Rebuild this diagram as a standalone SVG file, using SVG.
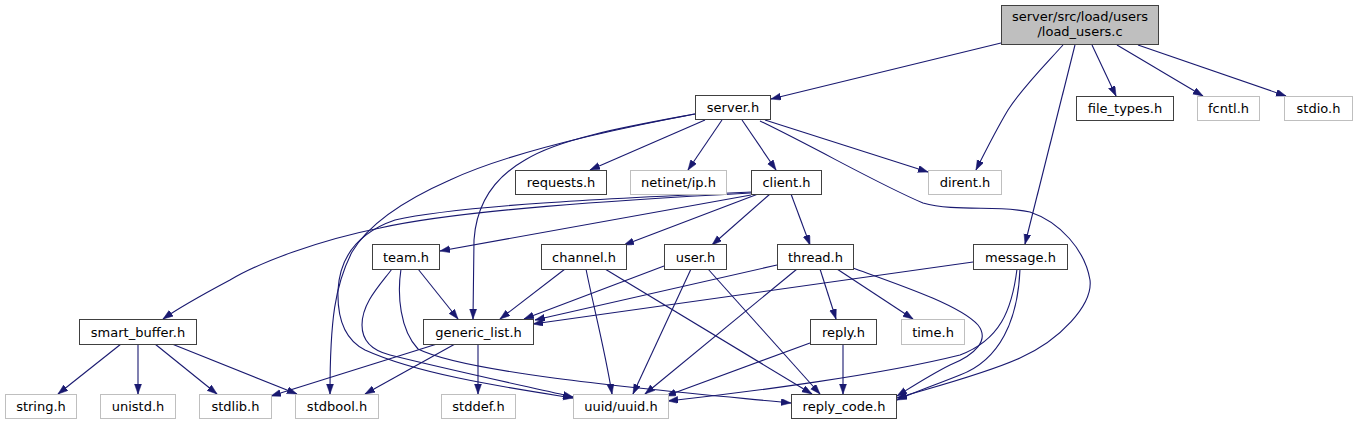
<svg xmlns="http://www.w3.org/2000/svg" width="1357" height="425" viewBox="0 0 1357 425">
<defs>
<style>
.n rect{fill:#ffffff;stroke:#404040;stroke-width:1}
.x rect{fill:#ffffff;stroke:#bfbfbf;stroke-width:1}
.r rect{fill:#bfbfbf;stroke:#404040;stroke-width:1}
text{font-family:"DejaVu Sans","Liberation Sans",sans-serif;font-size:13px;fill:#000;text-anchor:middle}
.e path{fill:none;stroke:#191970;stroke-width:1.1;marker-end:url(#a)}
</style>
<marker id="a" markerUnits="userSpaceOnUse" markerWidth="11" markerHeight="8" refX="10" refY="3.5" orient="auto">
<path d="M0,0 L10,3.5 L0,7 z" fill="#191970" stroke="#191970" stroke-width="0.5"/>
</marker>
</defs>
<rect width="1357" height="425" fill="#ffffff"/>
<g class="e" id="edges">
<path d="M1001,43 L771,99"/>
<path d="M1063,45 C1045,65 1022,88 1008,110 C996,130 986,150 976,170"/>
<path d="M1075,45 L1025,244"/>
<path d="M1092,45 L1116,96"/>
<path d="M1117,45 L1203,96"/>
<path d="M1138,45 L1286,96"/>
<path d="M705,120 L590,170"/>
<path d="M722,120 L688,170"/>
<path d="M742,120 L776,170"/>
<path d="M765,120 L928,172"/>
<path d="M760,121 C820,150 880,185 923,203 C955,212 1000,205 1030,212 C1060,222 1085,250 1090,280 C1093,305 1060,340 1020,358 C985,374 930,388 897,398"/>
<path d="M695,114 C630,126 560,138 525,160 C490,180 476,210 474,240 L473,319"/>
<path d="M695,114 C610,130 510,152 450,180 C400,202 368,225 352,252 C335,285 330,320 330,394"/>
<path d="M751,195 L440,251"/>
<path d="M758,194 L624,245"/>
<path d="M770,194 L712,245"/>
<path d="M791,194 L810,245"/>
<path d="M751,193 C620,200 460,210 380,228 C320,240 260,262 230,280 C200,296 180,307 163,319"/>
<path d="M751,192 C620,198 460,205 395,220 C360,232 340,255 338,290 C337,320 345,340 365,350 C420,375 510,388 573,398"/>
<path d="M418,269 L458,319"/>
<path d="M392,269 C380,285 362,303 362,325 C362,340 370,350 390,355 C450,370 520,385 573,397"/>
<path d="M401,269 C397,295 400,330 418,349 C470,375 680,392 791,403"/>
<path d="M565,269 L500,319"/>
<path d="M586,269 C592,300 605,350 612,394"/>
<path d="M605,269 L812,394"/>
<path d="M664,266 L524,319"/>
<path d="M691,269 L633,394"/>
<path d="M708,269 L820,394"/>
<path d="M777,265 L535,320"/>
<path d="M820,269 L836,319"/>
<path d="M837,269 L913,319"/>
<path d="M797,269 L645,394"/>
<path d="M853,268 C900,285 960,305 978,325 C990,340 975,355 950,365 C930,375 910,388 897,396"/>
<path d="M973,262 L533,324"/>
<path d="M1017,269 C1012,310 1000,340 960,355 C880,375 750,392 668,401"/>
<path d="M1020,269 C1018,320 1000,360 960,375 C935,385 915,392 897,400"/>
<path d="M810,343 L666,396"/>
<path d="M843,344 L843,394"/>
<path d="M437,344 L271,396"/>
<path d="M455,344 L365,394"/>
<path d="M478,344 L478,394"/>
<path d="M121,344 L58,394"/>
<path d="M138,344 L138,394"/>
<path d="M155,344 L217,394"/>
<path d="M172,344 L297,394"/>
</g>
<g id="load_users" class="r"><rect x="1001.5" y="5.5" width="157" height="39"/><text x="1080" y="21">server/src/load/users</text><text x="1080" y="36">/load_users.c</text></g>
<g id="server_h" class="n"><rect x="695.5" y="95.5" width="75" height="24"/><text x="733" y="112">server.h</text></g>
<g id="file_types_h" class="n"><rect x="1076.5" y="96.5" width="97" height="24"/><text x="1125" y="113">file_types.h</text></g>
<g id="fcntl_h" class="x"><rect x="1197.5" y="96.5" width="62" height="24"/><text x="1228.5" y="113">fcntl.h</text></g>
<g id="stdio_h" class="x"><rect x="1284.5" y="96.5" width="68" height="24"/><text x="1318.5" y="113">stdio.h</text></g>
<g id="requests_h" class="n"><rect x="515.5" y="170.5" width="91" height="24"/><text x="561" y="187">requests.h</text></g>
<g id="netinet_ip_h" class="x"><rect x="630.5" y="170.5" width="96" height="24"/><text x="678.5" y="187">netinet/ip.h</text></g>
<g id="client_h" class="n"><rect x="751.5" y="170.5" width="70" height="24"/><text x="786.5" y="187">client.h</text></g>
<g id="dirent_h" class="x"><rect x="928.5" y="170.5" width="73" height="24"/><text x="965" y="187">dirent.h</text></g>
<g id="team_h" class="n"><rect x="372.5" y="244.5" width="67" height="25"/><text x="406" y="262">team.h</text></g>
<g id="channel_h" class="n"><rect x="541.5" y="244.5" width="85" height="25"/><text x="584" y="262">channel.h</text></g>
<g id="user_h" class="n"><rect x="664.5" y="244.5" width="62" height="25"/><text x="695.5" y="262">user.h</text></g>
<g id="thread_h" class="n"><rect x="777.5" y="244.5" width="76" height="25"/><text x="815.5" y="262">thread.h</text></g>
<g id="message_h" class="n"><rect x="973.5" y="244.5" width="94" height="25"/><text x="1020.5" y="262">message.h</text></g>
<g id="smart_buffer_h" class="n"><rect x="79.5" y="319.5" width="117" height="25"/><text x="138" y="337">smart_buffer.h</text></g>
<g id="generic_list_h" class="n"><rect x="423.5" y="319.5" width="110" height="25"/><text x="478.5" y="337">generic_list.h</text></g>
<g id="reply_h" class="n"><rect x="810.5" y="319.5" width="66" height="25"/><text x="843.5" y="337">reply.h</text></g>
<g id="time_h" class="x"><rect x="901.5" y="319.5" width="63" height="25"/><text x="933" y="337">time.h</text></g>
<g id="string_h" class="x"><rect x="5.5" y="394.5" width="71" height="24"/><text x="41" y="411">string.h</text></g>
<g id="unistd_h" class="x"><rect x="100.5" y="394.5" width="75" height="24"/><text x="138" y="411">unistd.h</text></g>
<g id="stdlib_h" class="x"><rect x="199.5" y="394.5" width="72" height="24"/><text x="235.5" y="411">stdlib.h</text></g>
<g id="stdbool_h" class="x"><rect x="295.5" y="394.5" width="83" height="24"/><text x="337" y="411">stdbool.h</text></g>
<g id="stddef_h" class="x"><rect x="441.5" y="394.5" width="74" height="24"/><text x="478.5" y="411">stddef.h</text></g>
<g id="uuid_h" class="x"><rect x="573.5" y="394.5" width="95" height="24"/><text x="621" y="411">uuid/uuid.h</text></g>
<g id="reply_code_h" class="n"><rect x="791.5" y="394.5" width="105" height="24"/><text x="844" y="411">reply_code.h</text></g>
</svg>
